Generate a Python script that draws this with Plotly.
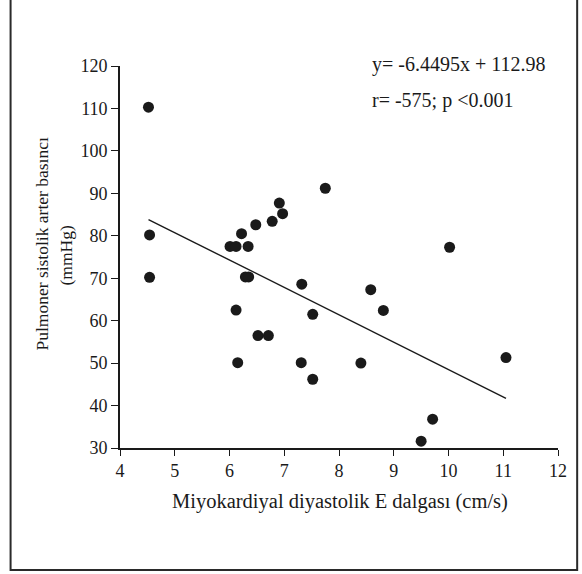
import plotly.graph_objects as go

x_vals = [4.52, 4.54, 4.54, 6.01, 6.12, 6.34, 6.22, 6.29, 6.35, 6.12, 6.15,
          6.48, 6.52, 6.71, 6.78, 6.91, 6.97, 7.75, 7.32, 7.52, 7.31, 7.52,
          8.58, 8.81, 8.40, 9.50, 9.71, 10.02, 11.05]
y_vals = [110.3, 80.2, 70.2, 77.5, 77.5, 77.5, 80.5, 70.3, 70.3, 62.5, 50.1,
          82.6, 56.5, 56.5, 83.4, 87.7, 85.2, 91.2, 68.6, 61.5, 50.1, 46.2,
          67.3, 62.4, 50.0, 31.6, 36.8, 77.3, 51.3]

slope = -6.4495
intercept = 112.98
eq_text = "y= -6.4495x + 112.98"
r_text = "r= -575; p <0.001"
x_title = "Miyokardiyal diyastolik E dalgası (cm/s)"
y_title_1 = "Pulmoner sistolik arter basıncı"
y_title_2 = "(mmHg)"
x_ticks = [4, 5, 6, 7, 8, 9, 10, 11, 12]
y_ticks = [30, 40, 50, 60, 70, 80, 90, 100, 110, 120]

FONT = "Liberation Serif, Times New Roman, serif"
INK = "#1a1a1a"

x_line = [min(x_vals), max(x_vals)]
y_line = [slope * v + intercept for v in x_line]

fig = go.Figure()
fig.add_trace(go.Scatter(x=x_line, y=y_line, mode="lines",
                         line=dict(color=INK, width=1.4), hoverinfo="skip",
                         showlegend=False))
fig.add_trace(go.Scatter(x=x_vals, y=y_vals, mode="markers",
                         marker=dict(color=INK, size=11, line=dict(width=0)),
                         showlegend=False))

W, H = 582, 574
L, R, T, B = 119.6, 23.7, 65.7, 125.7
pw, ph = W - L - R, H - T - B

def px_x(p):
    return (p - L) / pw

def px_y(p):
    return (H - B - p) / ph

fig.update_layout(
    width=W, height=H,
    margin=dict(l=L, r=R, t=T, b=B, pad=0),
    paper_bgcolor="white", plot_bgcolor="white",
    font=dict(family=FONT, size=16, color=INK),
    xaxis=dict(range=[4, 12], tickvals=x_ticks, ticks="outside", ticklen=6,
               tickwidth=1.3, tickcolor=INK, showline=True, linecolor=INK,
               linewidth=1.6, showgrid=False, zeroline=False,
               tickfont=dict(size=18, family=FONT, color=INK)),
    yaxis=dict(range=[30, 120], tickvals=y_ticks, ticks="outside", ticklen=7,
               tickwidth=1.3, tickcolor=INK, showline=True, linecolor=INK,
               linewidth=1.6, showgrid=False, zeroline=False,
               tickfont=dict(size=18, family=FONT, color=INK)),
    shapes=[dict(type="rect", xref="paper", yref="paper",
                 x0=px_x(10), x1=px_x(577.5), y0=px_y(570.5), y1=px_y(-5),
                 line=dict(color="#2a2a2a", width=2))],
    annotations=[
        dict(text=eq_text, xref="paper", yref="paper", x=px_x(370), y=px_y(64),
             xanchor="left", yanchor="middle", showarrow=False,
             font=dict(size=20, family=FONT, color=INK)),
        dict(text=r_text, xref="paper", yref="paper", x=px_x(370), y=px_y(100),
             xanchor="left", yanchor="middle", showarrow=False,
             font=dict(size=20, family=FONT, color=INK)),
        dict(text=x_title, xref="paper", yref="paper", x=px_x(340), y=px_y(502),
             xanchor="center", yanchor="middle", showarrow=False,
             font=dict(size=20.5, family=FONT, color=INK)),
        dict(text=y_title_1, xref="paper", yref="paper", x=px_x(41), y=px_y(244),
             xanchor="center", yanchor="middle", showarrow=False, textangle=-90,
             font=dict(size=17.5, family=FONT, color=INK)),
        dict(text=y_title_2, xref="paper", yref="paper", x=px_x(66), y=px_y(255),
             xanchor="center", yanchor="middle", showarrow=False, textangle=-90,
             font=dict(size=17.5, family=FONT, color=INK)),
    ],
)

fig.write_html("out.html", config={"displayModeBar": False},
               post_script="document.body.style.margin='0';")
